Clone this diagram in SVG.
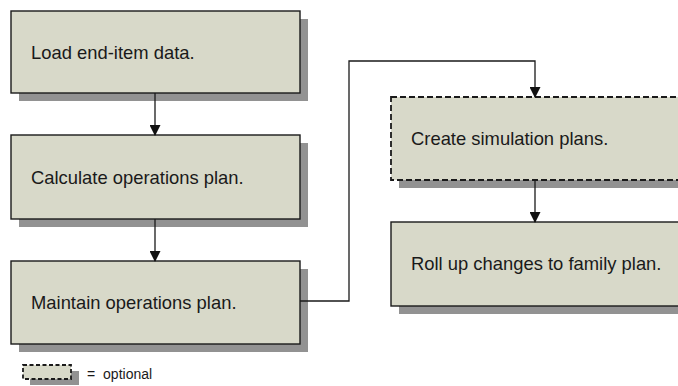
<svg xmlns="http://www.w3.org/2000/svg" width="678" height="386" viewBox="0 0 678 386">
<defs>
<style>
.box{fill:#d8d9c9;stroke:#1a1a1a;stroke-width:1.4}
.dash{stroke-dasharray:6 3;stroke-width:1.8}
.sh{fill:#929292}
.lbl{font-family:"Liberation Sans",Arial,sans-serif;font-size:18.4px;fill:#1a1a1a}
.leg{font-family:"Liberation Sans",Arial,sans-serif;font-size:14px;fill:#1a1a1a}
.con{fill:none;stroke:#1a1a1a;stroke-width:1.3}
</style>
<marker id="ah" markerWidth="11" markerHeight="11" refX="10" refY="5.5" orient="auto" markerUnits="userSpaceOnUse">
<path d="M0,0 L11,5.5 L0,11 Z" fill="#111"/>
</marker>
</defs>
<rect width="678" height="386" fill="#fff"/>
<g id="n1">
<rect class="sh" x="19" y="19" width="289" height="82"/>
<rect class="box" x="11" y="11" width="289" height="82"/>
<text class="lbl" x="31" y="59">Load end-item data.</text>
</g>
<g id="n2">
<rect class="sh" x="19" y="143" width="289" height="84"/>
<rect class="box" x="11" y="135" width="289" height="84"/>
<text class="lbl" x="31" y="184">Calculate operations plan.</text>
</g>
<g id="n3">
<rect class="sh" x="19" y="269" width="289" height="83"/>
<rect class="box" x="11" y="261" width="289" height="83"/>
<text class="lbl" x="31" y="309">Maintain operations plan.</text>
</g>
<g id="n4">
<rect class="sh" x="399" y="105" width="320" height="83"/>
<rect class="box dash" x="391" y="97" width="320" height="83"/>
<text class="lbl" x="411" y="145">Create simulation plans.</text>
</g>
<g id="n5">
<rect class="sh" x="399" y="230" width="320" height="84"/>
<rect class="box" x="391" y="222" width="320" height="84"/>
<text class="lbl" x="411" y="270">Roll up changes to family plan.</text>
</g>
<g id="legend">
<rect class="sh" x="30" y="371" width="49" height="14"/>
<rect class="box dash" x="23" y="365" width="48" height="14" style="stroke-dasharray:4 2.5"/>
<text class="leg" x="87" y="379" style="word-spacing:4px">= optional</text>
</g>
<g id="connectors">
<line class="con" x1="155" y1="93" x2="155" y2="135" marker-end="url(#ah)"/>
<line class="con" x1="155" y1="219" x2="155" y2="261" marker-end="url(#ah)"/>
<polyline class="con" points="300,301 349,301 349,61 535,61 535,97" marker-end="url(#ah)"/>
<line class="con" x1="535" y1="180" x2="535" y2="222" marker-end="url(#ah)"/>
</g>
</svg>
